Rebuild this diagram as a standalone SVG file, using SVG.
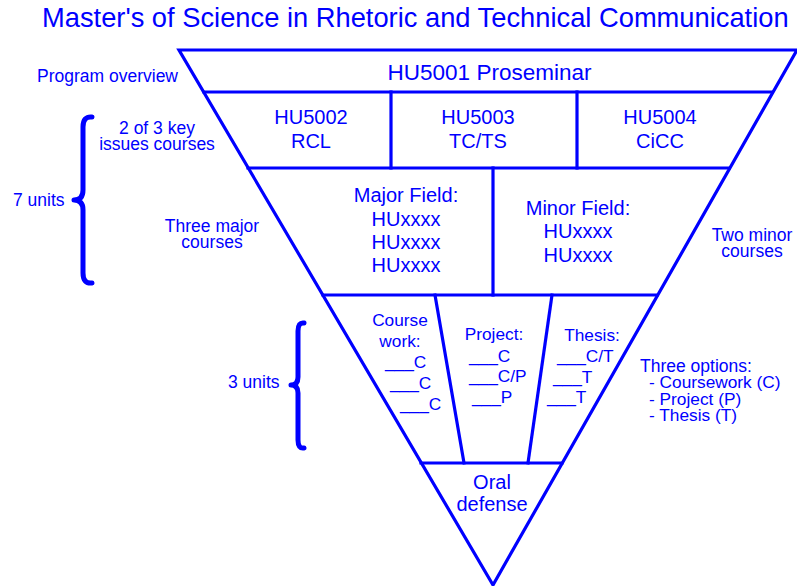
<svg xmlns="http://www.w3.org/2000/svg" width="797" height="586" viewBox="0 0 797 586">
<style>
  text { font-family: "Liberation Sans", Arial, sans-serif; fill: #0000ff; }
  .t18 { font-size: 17.5px; }
  .t17 { font-size: 17.3px; }
  .t20 { font-size: 20px; }
  .m { text-anchor: middle; }
  .ln { stroke: #0000ff; stroke-width: 3.2; fill: none; stroke-linecap: square; }
  .br { stroke: #0000ff; stroke-width: 5; fill: none; stroke-linecap: round; stroke-linejoin: round; }
</style>
<rect width="797" height="586" fill="#ffffff"/>

<text id="title" x="42" y="27" style="font-size:27.3px">Master's of Science in Rhetoric and Technical Communication</text>

<g id="frame">
  <polygon class="ln" points="179,50 797,50 493,585"/>
  <line class="ln" x1="204" y1="92" x2="772" y2="92"/>
  <line class="ln" x1="248" y1="168" x2="729" y2="168"/>
  <line class="ln" x1="323" y1="295" x2="657" y2="295"/>
  <line class="ln" x1="421" y1="463" x2="562" y2="463"/>
  <line class="ln" x1="391" y1="92" x2="391" y2="168"/>
  <line class="ln" x1="577" y1="92" x2="577" y2="168"/>
  <line class="ln" x1="493" y1="168" x2="493" y2="295"/>
  <line class="ln" x1="435" y1="295" x2="464" y2="463"/>
  <line class="ln" x1="552" y1="295" x2="528" y2="463"/>
</g>

<g id="braces">
  <path class="br" d="M92,117 Q83,116 83,127 L83,190 Q83,200 74,200 Q83,200 83,210 L83,273 Q83,284 92,283"/>
  <path class="br" d="M304,323 Q298,322 298,331 L298,377 Q298,385 291,385 Q298,385 298,393 L298,440 Q298,449 304,448"/>
</g>

<g id="proseminar">
  <text class="m" x="489.5" y="80" style="font-size:22.5px">HU5001 Proseminar</text>
</g>
<g id="hu5002">
  <text class="t20 m" x="311" y="124">HU5002</text>
  <text class="t20 m" x="311" y="148">RCL</text>
</g>
<g id="hu5003">
  <text class="t20 m" x="478" y="124">HU5003</text>
  <text class="t20 m" x="478" y="148">TC/TS</text>
</g>
<g id="hu5004">
  <text class="t20 m" x="660" y="124">HU5004</text>
  <text class="t20 m" x="660" y="148">CiCC</text>
</g>
<g id="major">
  <text class="t20 m" x="406" y="202">Major Field:</text>
  <text class="t20 m" x="406" y="226">HUxxxx</text>
  <text class="t20 m" x="406" y="249">HUxxxx</text>
  <text class="t20 m" x="406" y="272">HUxxxx</text>
</g>
<g id="minor">
  <text class="t20 m" x="578" y="215">Minor Field:</text>
  <text class="t20 m" x="578" y="238">HUxxxx</text>
  <text class="t20 m" x="578" y="262">HUxxxx</text>
</g>
<g id="coursework">
  <text class="t17 m" x="400" y="326">Course</text>
  <text class="t17 m" x="400" y="347">work:</text>
  <text class="t17" x="385" y="368">___C</text>
  <text class="t17" x="390" y="389">___C</text>
  <text class="t17" x="400" y="410">___C</text>
</g>
<g id="project">
  <text class="t17 m" x="494" y="340">Project:</text>
  <text class="t17" x="469" y="362">___C</text>
  <text class="t17" x="469" y="382">___C/P</text>
  <text class="t17" x="472" y="403">___P</text>
</g>
<g id="thesis">
  <text class="t17 m" x="592" y="341">Thesis:</text>
  <text class="t17" x="557" y="362">___C/T</text>
  <text class="t17" x="553" y="383">___T</text>
  <text class="t17" x="547" y="403">___T</text>
</g>
<g id="oral">
  <text class="t20 m" x="492" y="489">Oral</text>
  <text class="t20 m" x="492" y="511">defense</text>
</g>

<g id="labels">
  <text class="t18 m" x="107.5" y="82">Program overview</text>
  <text class="t18 m" x="157" y="134">2 of 3 key</text>
  <text class="t18 m" x="157" y="150">issues courses</text>
  <text class="t18" x="13" y="206">7 units</text>
  <text class="t18 m" x="212" y="232">Three major</text>
  <text class="t18 m" x="212" y="248">courses</text>
  <text class="t18 m" x="752" y="241">Two minor</text>
  <text class="t18 m" x="752" y="257">courses</text>
  <text class="t18" x="228" y="388">3 units</text>
  <text class="t18" x="640" y="371.5">Three options:</text>
  <text class="t17" x="649" y="388">- Coursework (C)</text>
  <text class="t17" x="649" y="404.5">- Project (P)</text>
  <text class="t17" x="649" y="421">- Thesis (T)</text>
</g>
</svg>
